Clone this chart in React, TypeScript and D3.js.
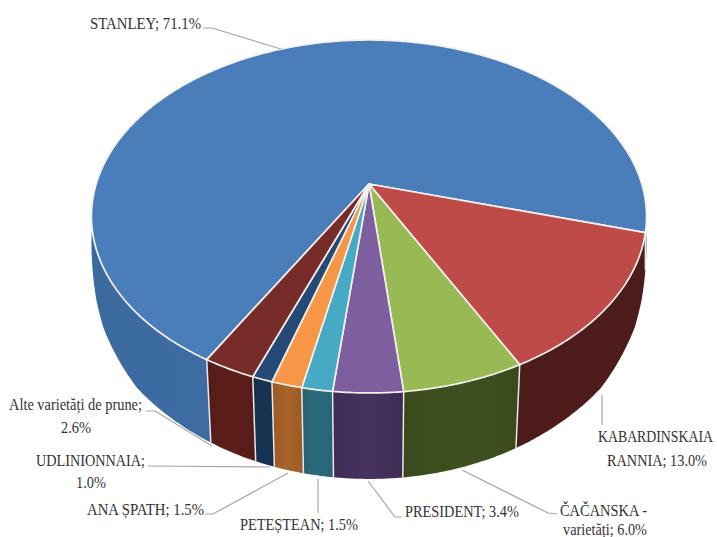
import * as d3 from "d3";

const names = [
  "STANLEY",
  "KABARDINSKAIA RANNIA",
  "ČAČANSKA - varietăți",
  "PRESIDENT",
  "PETEȘTEAN",
  "ANA ȘPATH",
  "UDLINIONNAIA",
  "Alte varietăți de prune",
];
const shares = [71.1, 13.0, 6.0, 3.4, 1.5, 1.5, 1.0, 2.6];
const topColors = ["#4a7ebb", "#be4b48", "#98b954", "#7d5fa0", "#46aac5", "#f79646", "#254a78", "#772c2a"];
const wallColors = ["#3e6fa6", "#4e1d1b", "#3f5020", "#46335f", "#2a6c7c", "#a8632a", "#173553", "#5e1f1c"];
const wallEdge = ["#3b6a9f", "#4c1c1a", "#3a4a1c", "#3e2c55", "#276473", "#9c5a24", "#142f4c", "#561b18"];

// each label line: text, left x, baseline y, drawn width
const labelLines: [string, number, number, number][][] = [
  [["STANLEY; 71.1%", 90, 29, 111]],
  [["KABARDINSKAIA", 598, 442, 115], ["RANNIA; 13.0%", 607, 466, 100]],
  [["ČAČANSKA -", 560, 516, 87], ["varietăți; 6.0%", 563, 535, 84]],
  [["PRESIDENT; 3.4%", 405, 517, 114]],
  [["PETEȘTEAN; 1.5%", 240, 530, 118]],
  [["ANA ȘPATH; 1.5%", 87, 515, 117]],
  [["UDLINIONNAIA;", 36, 466, 109], ["1.0%", 76, 488, 30]],
  [["Alte varietăți de prune;", 9, 410, 133], ["2.6%", 61, 433, 30]],
];
const leaders: [number, number][][] = [
  [[203, 28], [212, 28], [281, 49]],
  [[602, 395], [602, 425]],
  [[462, 470], [548, 513], [557, 514]],
  [[368, 481], [395, 517], [402, 517]],
  [[318, 479], [318, 513]],
  [[288, 473], [213, 514], [205, 514]],
  [[270, 467], [148, 466]],
  [[212, 446], [155, 411], [146, 411]],
];

const width = 717;
const height = 537;
const apexX = 369;
const apexY = 184;
const tilt = 0.184; // perspective strength, near edge looks bigger
const radiusX = 272.8;
const radiusY = 170.5;

// how far the wall hangs below the rim, and how much it narrows, by rim height
const wallDepth = d3.scaleLinear().domain([216, 265, 310, 360, 393]).range([25, 62, 78, 83, 86]).clamp(true);
const wallNarrow = d3.scaleLinear().domain([250, 350]).range([1, 0.975]).clamp(true);

// flat circle -> picture, angle in d3 convention (0 = up, clockwise)
function project(a: number): [number, number] {
  const u = Math.sin(a);
  const v = -Math.cos(a);
  const w = 1 - tilt * v;
  return [apexX + (radiusX * u) / w, apexY + (radiusY * v) / w];
}

function projectBottom(a: number): [number, number] {
  const [x, y] = project(a);
  return [apexX + (x - apexX) * wallNarrow(y), y + wallDepth(y)];
}

const startAngle = (210 * Math.PI) / 180 - 2 * Math.PI;
const slices = d3
  .pie<number>()
  .sort(null)
  .startAngle(startAngle)
  .endAngle(startAngle + 2 * Math.PI)(shares);

const line = d3.line();

function arcAngles(a0: number, a1: number) {
  const n = Math.max(4, Math.ceil((a1 - a0) / 0.01));
  return d3.range(n + 1).map((i) => a0 + ((a1 - a0) * i) / n);
}

function topPath(a0: number, a1: number) {
  const pts = arcAngles(a0, a1).map(project);
  return line([[apexX, apexY], ...pts]) + "Z";
}

// visible part of the side only (near half of the rim)
function wallPath(a0: number, a1: number) {
  const nearFrom = Math.PI / 2 - 0.2;
  const nearTo = (3 * Math.PI) / 2 + 0.2;
  const ranges: [number, number][] = [];
  if (Math.min(a1, nearTo) > Math.max(a0, nearFrom)) ranges.push([Math.max(a0, nearFrom), Math.min(a1, nearTo)]);
  // first slice wraps through negative angles
  const a2 = a0 + 2 * Math.PI;
  const a3 = a1 + 2 * Math.PI;
  if (Math.min(a3, nearTo) > Math.max(a2, nearFrom)) ranges.push([Math.max(a2, nearFrom), Math.min(a3, nearTo)]);
  return ranges
    .map(([s, e]) => {
      const angles = arcAngles(s, e);
      const pts = [...angles.map(project), ...angles.slice().reverse().map(projectBottom)];
      return line(pts) + "Z";
    })
    .join(" ");
}

const seams = slices
  .map((s) => (s.startAngle < 0 ? s.startAngle + 2 * Math.PI : s.startAngle))
  .filter((a) => a > Math.PI / 2 && a < (3 * Math.PI) / 2);

export default function App() {
  return (
    <svg
      width={width}
      height={height}
      style={{ position: "absolute", left: 0, top: 0, background: "#fff" }}
      fontFamily="'Liberation Serif', serif"
    >
      <defs>
        {slices.map((s, i) => (
          <linearGradient key={i} id={`wall-${i}`} x1="0" x2="1" y1="0" y2="0">
            <stop offset="0%" stopColor={wallEdge[i]} />
            <stop offset="50%" stopColor={wallColors[i]} />
            <stop offset="100%" stopColor={wallEdge[i]} />
          </linearGradient>
        ))}
      </defs>
      <g>
        {slices.map((s, i) => (
          <path key={names[i]} d={wallPath(s.startAngle, s.endAngle)} fill={`url(#wall-${i})`} />
        ))}
        {seams.map((a, i) => (
          <path key={i} d={line([project(a), projectBottom(a)]) ?? ""} stroke="#e8e8e8" strokeWidth={1.5} fill="none" />
        ))}
      </g>
      <g>
        {slices.map((s, i) => (
          <path
            key={names[i]}
            d={topPath(s.startAngle, s.endAngle)}
            fill={topColors[i]}
            stroke="#f4f0ec"
            strokeWidth={1.7}
            strokeLinejoin="round"
          />
        ))}
      </g>
      <g fill="none" stroke="#a6a6a6" strokeWidth={1.2}>
        {leaders.map((pts, i) => (
          <path key={i} d={line(pts) ?? ""} />
        ))}
      </g>
      <g fontSize={17.5} fill="#333">
        {labelLines.flat().map(([t, x, y, w]) => (
          <text key={t} x={x} y={y} textLength={w} lengthAdjust="spacingAndGlyphs">
            {t}
          </text>
        ))}
      </g>
    </svg>
  );
}
